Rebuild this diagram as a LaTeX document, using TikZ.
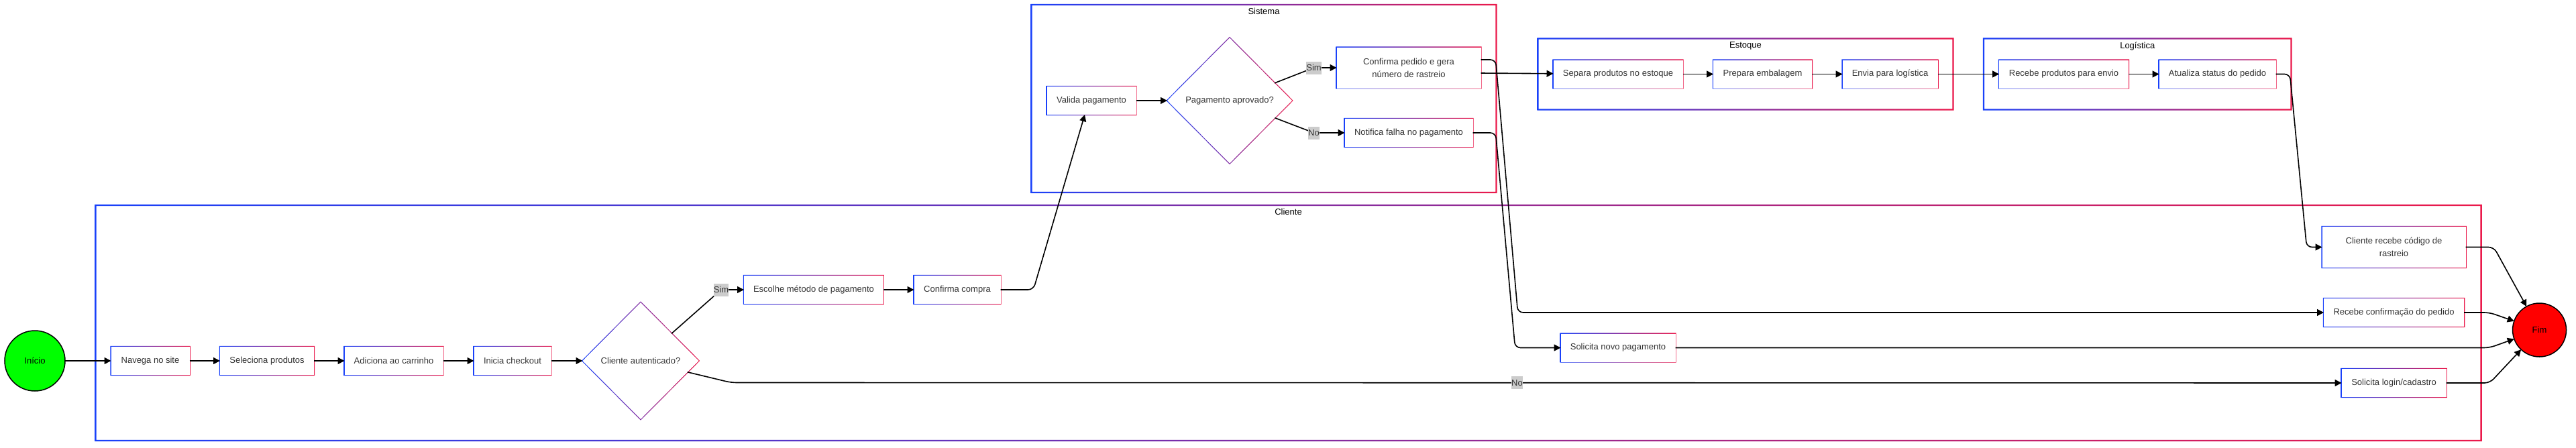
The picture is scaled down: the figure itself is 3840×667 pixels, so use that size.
\documentclass[tikz,border=0pt]{standalone}
\usepackage{fontspec}
\setmainfont{Liberation Sans}
\usetikzlibrary{positioning,fit,calc,shapes.geometric,arrows.meta}
\definecolor{laneblue}{RGB}{25,65,250}
\definecolor{lanered}{RGB}{235,25,75}
\definecolor{textgray}{RGB}{51,51,51}
\definecolor{labelgray}{RGB}{204,204,204}
\definecolor{startgreen}{RGB}{0,255,0}
\definecolor{endred}{RGB}{255,0,0}
\newcommand{\diagfont}{\fontsize{13}{19}\selectfont}
\tikzstyle{gradrect}=[append after command={\pgfextra{\shade[sharp corners, left color=laneblue, right color=lanered, even odd rule] ($(\tikzlastnode.south west)+(-1.2pt,-1.2pt)$) rectangle ($(\tikzlastnode.north east)+(1.2pt,1.2pt)$) ($(\tikzlastnode.south west)+(1.2pt,1.2pt)$) rectangle ($(\tikzlastnode.north east)+(-1.2pt,-1.2pt)$);}}]
\tikzstyle{graddiamond}=[append after command={\pgfextra{\shade[sharp corners, left color=laneblue, right color=lanered, even odd rule] ($(\tikzlastnode.west)+(-1.7pt,0)$) -- ($(\tikzlastnode.north)+(0,1.7pt)$) -- ($(\tikzlastnode.east)+(1.7pt,0)$) -- ($(\tikzlastnode.south)+(0,-1.7pt)$) -- cycle ($(\tikzlastnode.west)+(1.7pt,0)$) -- ($(\tikzlastnode.north)+(0,-1.7pt)$) -- ($(\tikzlastnode.east)+(-1.7pt,0)$) -- ($(\tikzlastnode.south)+(0,1.7pt)$) -- cycle;}}]
\tikzstyle{task}=[rectangle, fill=white, text=textgray, font=\diagfont, minimum height=42pt, inner sep=0pt, outer sep=0pt, align=center, gradrect]
\tikzstyle{decision}=[diamond, fill=white, text=textgray, font=\diagfont, inner sep=0pt, outer sep=0pt, graddiamond]
\tikzstyle{lane}=[rectangle, inner xsep=23pt, inner ysep=32pt, outer sep=0pt, gradrect]
\tikzstyle{lanetitle}=[inner sep=0pt, font=\diagfont, text=black]
\tikzstyle{terminal}=[circle, draw=black, line width=1.5pt, inner sep=0pt, outer sep=0pt, font=\diagfont, text=black]
\tikzstyle{edgelabel}=[rectangle, sharp corners, fill=labelgray, text=textgray, inner xsep=0pt, inner ysep=0pt, minimum height=19pt, font=\diagfont]
\tikzstyle{myarrow}=[-{Triangle[length=10pt,width=10pt]}, line width=1.6pt, rounded corners=8pt]

\begin{document}
\begin{tikzpicture}[x=1pt, y=1pt]

        \fill[white] (0,0) rectangle (3840,-667);
        \useasboundingbox (0,0) rectangle (3840,-667);

        % Cliente
        \node (inicio) [terminal, fill=startgreen, minimum size=90pt] at (52,-538) {Início};
        \node (navega) [task, right of=inicio, node distance=172pt, minimum width=117pt] {Navega no site};
        \node (seleciona) [task, right of=navega, node distance=174pt, minimum width=140pt] {Seleciona produtos};
        \node (adiciona) [task, right of=seleciona, node distance=189pt, minimum width=147pt] {Adiciona ao carrinho};
        \node (checkout) [task, right of=adiciona, node distance=177pt, minimum width=115pt] {Inicia checkout};
        \node (auth) [decision, right of=checkout, node distance=191pt, minimum width=173pt, minimum height=174pt] {Cliente autenticado?};

        \node (escolhe) [task, right of=auth, node distance=258pt, yshift=106pt, minimum width=208pt] {Escolhe método de pagamento};
        \node (compra) [task, right of=escolhe, node distance=214pt, minimum width=129pt] {Confirma compra};

        % Sistema
        \node (valida) [task, right of=compra, node distance=200pt, yshift=282pt, minimum width=133pt] {Valida pagamento};
        \node (aprovado) [decision, right of=valida, node distance=206pt, minimum width=186pt, minimum height=187pt] {Pagamento aprovado?};
        \node (pedido) [task, right of=aprovado, node distance=267pt, yshift=49pt, minimum width=215pt, minimum height=61pt] {Confirma pedido e gera\\número de rastreio};
        \node (falha) [task, below of=pedido, node distance=97pt, minimum width=191pt] {Notifica falha no pagamento};

        % Estoque
        \node (separa) [task, right of=pedido, node distance=312pt, yshift=-9.5pt, minimum width=193pt] {Separa produtos no estoque};
        \node (embalagem) [task, right of=separa, node distance=215.5pt, minimum width=147pt] {Prepara embalagem};
        \node (envia) [task, right of=embalagem, node distance=190pt, minimum width=142pt] {Envia para logística};

        % Logistica
        \node (recebeprod) [task, right of=envia, node distance=259pt, minimum width=193pt] {Recebe produtos para envio};
        \node (atualiza) [task, right of=recebeprod, node distance=229pt, minimum width=174pt] {Atualiza status do pedido};

        % Cliente, lado direito
        \node (codigo) [task, below of=atualiza, node distance=258pt, xshift=263pt, minimum width=214pt, minimum height=61pt] {Cliente recebe código de\\rastreio};
        \node (recebeconf) [task, below of=codigo, node distance=97.5pt, minimum width=209pt] {Recebe confirmação do pedido};
        \node (login) [task, below of=recebeconf, node distance=105pt, minimum width=156pt] {Solicita login/cadastro};
        \node (novopag) [task, below of=separa, node distance=408pt, minimum width=171pt] {Solicita novo pagamento};

        \node (fim) [terminal, fill=endred, minimum size=80pt, right of=recebeconf, node distance=217pt, yshift=-26pt] {Fim};

        % Lanes
        \node (cliente) [lane, fit={(navega) (codigo) (auth.south)}] {};
        \node (sistema) [lane, inner ysep=46.5pt, yshift=3pt, fit={(valida) (aprovado.north) (aprovado.south) (pedido)}] {};
        \node (estoque) [lane, fit={(separa) (envia)}] {};
        \node (logistica) [lane, fit={(recebeprod) (atualiza)}] {};

        \node (cliente_title) [lanetitle, below=5pt of cliente.north] {Cliente};
        \node (sistema_title) [lanetitle, below=5pt of sistema.north] {Sistema};
        \node (estoque_title) [lanetitle, below=5pt of estoque.north] {Estoque};
        \node (logistica_title) [lanetitle, below=5pt of logistica.north] {Logística};

        %Arrows
        \draw[myarrow] (inicio) -- (navega);
        \draw[myarrow] (navega) -- (seleciona);
        \draw[myarrow] (seleciona) -- (adiciona);
        \draw[myarrow] (adiciona) -- (checkout);
        \draw[myarrow] (checkout) -- (auth);

        \draw[myarrow] (auth) -- ($(escolhe.west)+(-34,0)$) node[edgelabel] {Sim} -- (escolhe);
        \draw[myarrow] (auth) -- ($(auth)+(135,-32.5)$) -- node[edgelabel, pos=0.488] {No} (login);
        \draw[myarrow] (escolhe) -- (compra);
        \draw[myarrow] (compra) -- ($(compra.east)+(49,0)$) -- ($(valida.south)+(-10,0)$);

        %Sistema Arrows
        \draw[myarrow] (valida) -- (aprovado);
        \draw[myarrow] (aprovado) -- ($(pedido.west)+(-34,0)$) node[edgelabel] {Sim} -- (pedido);
        \draw[myarrow] (aprovado) -- ($(falha.west)+(-46,0)$) node[edgelabel] {No} -- (falha);

        \draw[myarrow] ($(pedido.east)+(0,-8)$) -- (separa);
        \draw[myarrow] ($(pedido.east)+(0,12)$) -- ($(pedido.east)+(22,12)$) -- ($(novopag.west |- recebeconf.west)+(-64,0)$) -- (recebeconf);
        \draw[myarrow] (falha) -- ($(falha.east)+(34,0)$) -- ($(novopag.west)+(-68,0)$) -- (novopag);

        %Estoque / Logistica Arrows
        \draw[myarrow] (separa) -- (embalagem);
        \draw[myarrow] (embalagem) -- (envia);
        \draw[myarrow] (envia) -- (recebeprod);
        \draw[myarrow] (recebeprod) -- (atualiza);
        \draw[myarrow] (atualiza) -- ($(atualiza.east)+(21,0)$) -- ($(codigo.west)+(-23,0)$) -- (codigo);

        %Fim Arrows
        \draw[myarrow] (codigo) -- ($(codigo.east)+(42,0)$) -- (fim);
        \draw[myarrow] (recebeconf) -- ($(recebeconf.east)+(38,0)$) -- (fim);
        \draw[myarrow] (novopag) -- ($(recebeconf.east |- novopag.east)+(38,0)$) -- (fim);
        \draw[myarrow] (login) -- ($(login.east)+(65,0)$) -- (fim);

\end{tikzpicture}
\end{document}
